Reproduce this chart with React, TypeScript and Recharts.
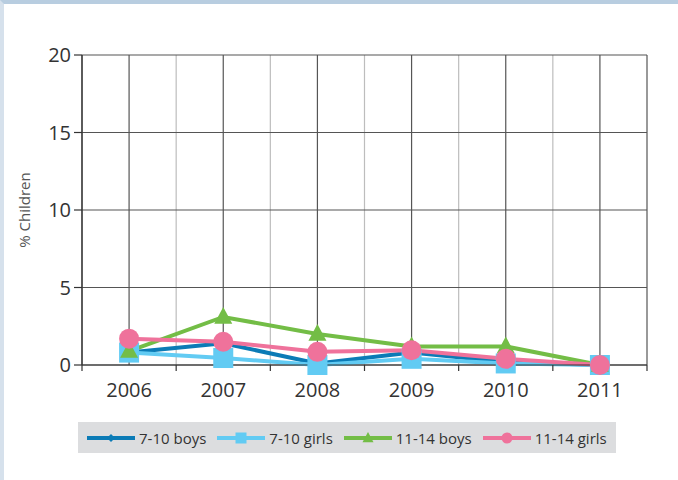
import {
  LineChart,
  Line,
  XAxis,
  YAxis,
  CartesianGrid,
  Legend,
} from "recharts";

const years = ["2006", "2007", "2008", "2009", "2010", "2011"];
const boys710 = [0.8, 1.4, 0.1, 0.8, 0.2, 0];
const girls710 = [0.8, 0.45, 0, 0.4, 0.1, 0];
const boys1114 = [0.9, 3.1, 2.0, 1.2, 1.2, 0];
const girls1114 = [1.7, 1.5, 0.85, 0.95, 0.4, 0];
const yTicks = [0, 5, 10, 15, 20];

const data = years.map((year, i) => ({
  year,
  boys710: boys710[i],
  girls710: girls710[i],
  boys1114: boys1114[i],
  girls1114: girls1114[i],
}));

const FONT = "'Open Sans', 'DejaVu Sans', sans-serif";
const TICK_SIZE = 8;
const TICK_MARGIN = 10;

type Shape = "diamond" | "square" | "triangle" | "circle";

const series: { key: string; name: string; color: string; shape: Shape; size: number }[] = [
  { key: "boys710", name: "7-10 boys", color: "#0b7bb6", shape: "diamond", size: 4 },
  { key: "girls710", name: "7-10 girls", color: "#62cbf3", shape: "square", size: 10 },
  { key: "boys1114", name: "11-14 boys", color: "#73bd46", shape: "triangle", size: 9 },
  { key: "girls1114", name: "11-14 girls", color: "#ef729b", shape: "circle", size: 10 },
];

function Marker({ shape, cx, cy, color, size }: { shape: Shape; cx: number; cy: number; color: string; size: number }) {
  if (cx == null || cy == null) return null;
  const s = size;
  switch (shape) {
    case "diamond":
      return <polygon points={`${cx},${cy - s} ${cx + s},${cy} ${cx},${cy + s} ${cx - s},${cy}`} fill={color} />;
    case "square":
      return <rect x={cx - s} y={cy - s} width={s * 2} height={s * 2} fill={color} />;
    case "triangle":
      return (
        <polygon
          points={`${cx},${cy - s * 1.1} ${cx + s},${cy + s * 0.75} ${cx - s},${cy + s * 0.75}`}
          fill={color}
        />
      );
    default:
      return <circle cx={cx} cy={cy} r={s} fill={color} />;
  }
}

// year label at band centre, small tick marks at the band edges
function YearTick(props: any) {
  const { x, y, payload, index, visibleTicksCount } = props;
  const half = payload.offset || 0;
  const axisY = y - TICK_SIZE - TICK_MARGIN;
  const last = index === visibleTicksCount - 1;
  return (
    <g>
      <line x1={x - half} y1={axisY} x2={x - half} y2={axisY + 6} stroke="#333" strokeWidth={1.2} />
      {last && <line x1={x + half} y1={axisY} x2={x + half} y2={axisY + 6} stroke="#333" strokeWidth={1.2} />}
      <text x={x} y={y} dy="0.71em" textAnchor="middle" fontSize={20} fill="#333" fontFamily={FONT}>
        {payload.value}
      </text>
    </g>
  );
}

function LegendBox() {
  return (
    <div
      style={{
        background: "#dcdddf",
        width: 538,
        height: 31,
        display: "flex",
        alignItems: "center",
        paddingLeft: 9,
        boxSizing: "border-box",
        fontFamily: FONT,
        fontSize: 15,
        color: "#333",
        whiteSpace: "nowrap",
      }}
    >
      {series.map((s) => (
        <span key={s.key} style={{ display: "flex", alignItems: "center", marginRight: 11 }}>
          <svg width={48} height={16}>
            <line x1={0} y1={8} x2={48} y2={8} stroke={s.color} strokeWidth={4} />
            <Marker shape={s.shape} cx={24} cy={8} color={s.color} size={s.shape === "diamond" ? 4 : 5.5} />
          </svg>
          <span style={{ marginLeft: 4 }}>{s.name}</span>
        </span>
      ))}
    </div>
  );
}

export default function App() {
  return (
    <div
      style={{
        position: "fixed",
        left: 0,
        top: 0,
        width: 678,
        height: 480,
        background: "#fff",
        borderTop: "4px solid #b8cde0",
        borderLeft: "4px solid #d6e1ec",
        boxSizing: "border-box",
      }}
    >
      <div style={{ position: "absolute", left: -4, top: -4 }}>
        <LineChart
          width={678}
          height={480}
          data={data}
          margin={{ top: 55, right: 31, bottom: 75, left: 0 }}
          style={{ fontFamily: FONT }}
        >
          <CartesianGrid
            horizontal={false}
            stroke="#bdbdbd"
            strokeWidth={1.2}
            verticalCoordinatesGenerator={({ offset }: any) =>
              [1, 2, 3, 4, 5].map((i) => offset.left + (i * offset.width) / 6)
            }
          />
          <CartesianGrid stroke="#555" strokeWidth={1.2} />
          <XAxis
            dataKey="year"
            scale="band"
            axisLine={{ stroke: "#333", strokeWidth: 1.2 }}
            tickLine={false}
            tickSize={TICK_SIZE}
            tickMargin={TICK_MARGIN}
            tick={<YearTick />}
            interval={0}
            height={40}
          />
          <YAxis
            domain={[0, 20]}
            ticks={yTicks}
            width={82}
            axisLine={{ stroke: "#333", strokeWidth: 1.2 }}
            tickLine={{ stroke: "#333", strokeWidth: 1.2 }}
            tickSize={8}
            tickMargin={3}
            tick={{ fontSize: 20, fill: "#333" }}
            label={{
              value: "% Children",
              angle: -90,
              position: "insideLeft",
              offset: 25,
              style: { textAnchor: "middle", fontSize: 15, fill: "#555" },
            }}
          />
          <YAxis
            yAxisId="right"
            orientation="right"
            width={0}
            tick={false}
            tickLine={false}
            axisLine={{ stroke: "#333", strokeWidth: 1.2 }}
          />
          <Legend
            layout="horizontal"
            verticalAlign="middle"
            align="center"
            wrapperStyle={{ left: 78, top: 422, width: 538 }}
            content={<LegendBox />}
          />
          {series.map((s) => (
            <Line
              key={s.key}
              type="linear"
              dataKey={s.key}
              name={s.name}
              stroke={s.color}
              strokeWidth={4}
              isAnimationActive={false}
              activeDot={false}
              dot={(p: any) => (
                <Marker key={`${s.key}-${p.index}`} shape={s.shape} cx={p.cx} cy={p.cy} color={s.color} size={s.size} />
              )}
            />
          ))}
        </LineChart>
      </div>
    </div>
  );
}
